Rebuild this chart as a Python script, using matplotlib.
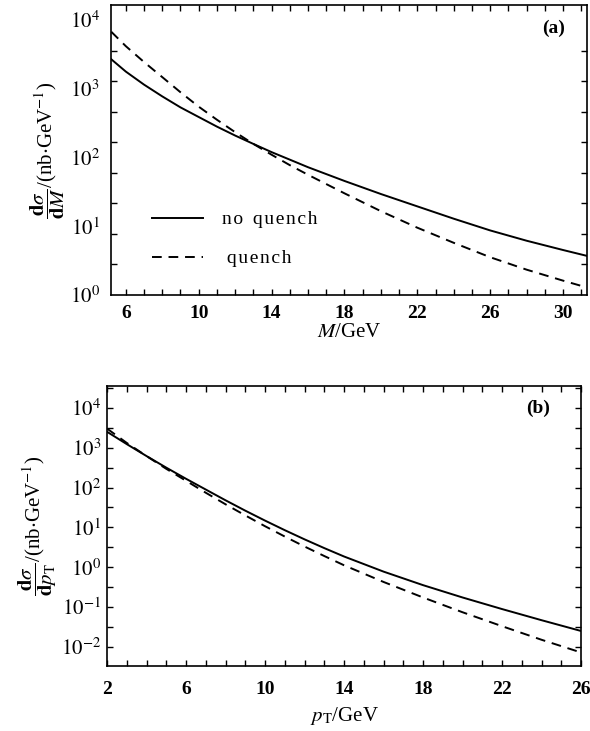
import matplotlib
matplotlib.use("Agg")
import matplotlib.pyplot as plt
from matplotlib.ticker import FixedLocator, NullFormatter, FixedFormatter
import numpy as np

plt.rcParams['font.family'] = ['Liberation Serif', 'DejaVu Serif']
plt.rcParams['mathtext.fontset'] = 'stix'

# Panel (a): invariant mass spectra
M = [5.2, 6, 7, 8, 9, 10, 11, 12, 13, 14, 15, 16, 18, 20, 22, 24, 26, 28, 30, 31.3]
a_noquench = [2690, 1780, 1150, 776, 537, 389, 282, 209, 158, 120, 93.3, 72.4,
              45.7, 29.5, 19.5, 12.9, 8.71, 6.17, 4.52, 3.72]
a_quench = [6760, 4170, 2450, 1480, 891, 550, 355, 234, 158, 110, 77.6, 56.2,
            30.2, 16.6, 9.55, 5.75, 3.55, 2.34, 1.62, 1.29]

# Panel (b): transverse momentum spectra
pT = [2, 3, 4, 5, 6, 7, 8, 9, 10, 11, 12, 13, 14, 16, 18, 20, 22, 24, 26]
b_noquench = [2512, 1230, 617, 316, 166, 89.1, 47.9, 26.3, 14.8, 8.51, 5.01, 3.02,
              1.86, 0.776, 0.355, 0.174, 0.0891, 0.0468, 0.0251]
b_quench = [3020, 1318, 617, 295, 148, 74.1, 38.0, 20.0, 10.7, 5.89, 3.31, 1.91,
            1.12, 0.427, 0.174, 0.0741, 0.0331, 0.0151, 0.00724]

a_xticks = [6, 10, 14, 18, 22, 26, 30]
b_xticks = [2, 6, 10, 14, 18, 22, 26]
a_ydecades = [0, 1, 2, 3, 4]
b_ydecades = [-2, -1, 0, 1, 2, 3, 4]

hs = '\u200a'
label_noq = hs.join('no') + '  ' + hs.join('quench')
label_q = ' ' + hs.join('quench')

fig = plt.figure(figsize=(5.9, 7.31), dpi=100)
axa = fig.add_axes([0.188, 0.5964, 0.807, 0.3968])
axb = fig.add_axes([0.1814, 0.0889, 0.8034, 0.3831])

lw = 1.4
dash = (0, (5, 3.5))

axa.plot(M, a_noquench, color='black', lw=lw, label=label_noq)
axa.plot(M, a_quench, color='black', lw=lw, ls=dash, label=label_q)
axb.plot(pT, b_noquench, color='black', lw=lw)
axb.plot(pT, b_quench, color='black', lw=lw, ls=dash)

for ax in (axa, axb):
    ax.set_yscale('log')
    for s in ax.spines.values():
        s.set_linewidth(1.2)
    ax.tick_params(which='both', direction='in', top=True, right=True,
                   width=1.0, length=4)
    ax.tick_params(axis='y', which='major', labelsize=15, pad=4)

# Panel (a) axes
axa.set_xlim(5.18, 31.32)
axa.set_ylim(1, 10 ** 4.22)
axa.xaxis.set_major_locator(FixedLocator(a_xticks))
axa.xaxis.set_minor_locator(FixedLocator(np.arange(6, 32, 1)))
axa.set_xticklabels([str(v) for v in a_xticks], fontweight='bold')
axa.tick_params(axis='x', which='major', labelsize=14, pad=7)
axa.yaxis.set_major_locator(FixedLocator([10.0 ** d for d in a_ydecades]))
axa.yaxis.set_major_formatter(FixedFormatter([r'$10^{%d}$' % d for d in a_ydecades]))
axa.yaxis.set_minor_locator(FixedLocator([10 ** (4 * k / 9) for k in range(10)]))
axa.yaxis.set_minor_formatter(NullFormatter())
axa.tick_params(axis='y', which='major', length=0, pad=8)
axa.set_xlabel(r'$M$/GeV', fontsize=15, labelpad=1)
axa.set_ylabel(r'$\dfrac{\mathbf{d}\sigma}{\mathbf{d}M}$/(nb$\cdot$GeV$^{-1}$)',
               fontsize=15, labelpad=2)
axa.text(0.93, 0.92, '(a)', transform=axa.transAxes, fontsize=14,
         fontweight='bold', ha='center', va='center')
leg = axa.legend(loc='lower left', bbox_to_anchor=(0.05, 0.035), frameon=False,
                 fontsize=14, handlelength=2.6, handletextpad=1.0,
                 labelspacing=1.1)

# Panel (b) axes
axb.set_xlim(2, 26)
axb.set_ylim(10 ** -2.48, 10 ** 4.55)
axb.xaxis.set_major_locator(FixedLocator(b_xticks))
axb.xaxis.set_minor_locator(FixedLocator(np.arange(2, 27, 1)))
axb.set_xticklabels([str(v) for v in b_xticks], fontweight='bold')
axb.tick_params(axis='x', which='major', labelsize=14, pad=11)
axb.yaxis.set_major_locator(FixedLocator([10.0 ** d for d in b_ydecades]))
axb.yaxis.set_major_formatter(FixedFormatter([r'$10^{%d}$' % d for d in b_ydecades]))
axb.yaxis.set_minor_locator(FixedLocator([10 ** (k + 0.5) for k in range(-3, 5)]))
axb.yaxis.set_minor_formatter(NullFormatter())
axb.set_xlabel(r'$p_{\mathrm{T}}$/GeV', fontsize=15, labelpad=5)
axb.set_ylabel(r'$\dfrac{\mathbf{d}\sigma}{\mathbf{d}p_{\mathrm{T}}}$/(nb$\cdot$GeV$^{-1}$)',
               fontsize=15, labelpad=2)
axb.text(0.91, 0.92, '(b)', transform=axb.transAxes, fontsize=14,
         fontweight='bold', ha='center', va='center')

fig.savefig('out.png', dpi=100)
